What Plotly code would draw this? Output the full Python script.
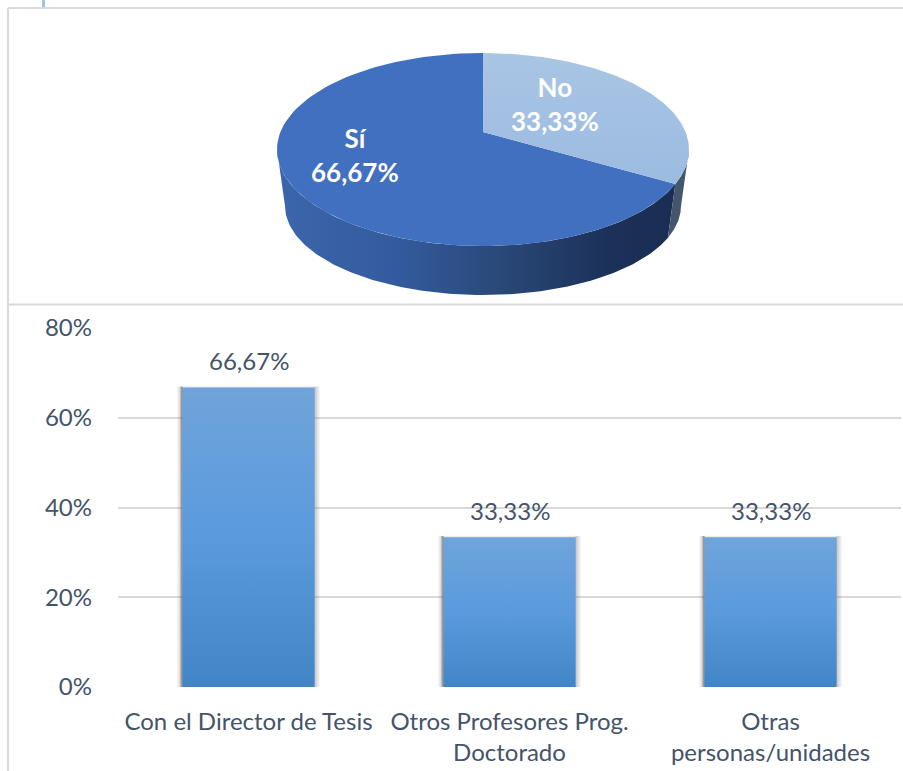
import numpy as np
import plotly.graph_objects as go

# ---- data ----
pie_labels = ["No", "Sí"]
pie_values = [33.33, 66.67]
bar_categories = ["Con el Director de Tesis", "Otros Profesores Prog.<br>Doctorado", "Otras<br>personas/unidades"]
bar_values = [66.67, 33.33, 33.33]
y_ticks = [0, 20, 40, 60, 80]

W, H = 903, 771
FONT = "Lato"
TXT = "#44546A"
GRID = "#D9D9D9"


def pct(v):
    return f"{v:.2f}".replace(".", ",") + "%"


# pie geometry (tilted ellipse)
CX, CY, RX, RY = 483, 149.5, 206, 96.5
AX, AY = 483, 132
BX, BY, BRX, BRY = 483, 206, 198, 89
K = 0.925  # perspective foreshortening of the swept angle


def arc(cx, cy, rx, ry, a0, a1, n=120):
    t = np.radians(np.linspace(a0, a1, n))
    return cx + rx * np.sin(t), cy - ry * np.cos(t)


split = 360 * pie_values[0] / sum(pie_values) * K

fig = go.Figure()

# ---- bars ----
BW = 0.506
bx = list(range(len(bar_values)))
fig.add_trace(go.Bar(x=bx, y=bar_values, width=BW, marker=dict(color="#5B9BDB", line=dict(width=0)),
                     showlegend=False, hoverinfo="skip", xaxis="x", yaxis="y", cliponaxis=False))
for i, v in zip(bx, bar_values):
    l, r = i - BW / 2, i + BW / 2
    s = 6 / 261
    # soft shadows left / right / top / below
    fig.add_trace(go.Scatter(x=[l - s, l, l, l - s, l - s], y=[-0.5, -0.5, v + 0.3, v + 0.3, -0.5], mode="lines", line=dict(width=0),
                             fill="toself", fillgradient=dict(type="horizontal", start=l - s, stop=l,
                             colorscale=[[0, "rgba(110,110,110,0)"], [0.5, "rgba(100,100,100,0.2)"], [1, "rgba(80,80,80,0.8)"]]),
                             showlegend=False, hoverinfo="skip", cliponaxis=False))
    fig.add_trace(go.Scatter(x=[r, r + s, r + s, r, r], y=[-0.5, -0.5, v + 0.3, v + 0.3, -0.5], mode="lines", line=dict(width=0),
                             fill="toself", fillgradient=dict(type="horizontal", start=r, stop=r + s,
                             colorscale=[[0, "rgba(120,120,120,0.45)"], [1, "rgba(130,130,130,0)"]]),
                             showlegend=False, hoverinfo="skip", cliponaxis=False))
    fig.add_trace(go.Scatter(x=[l, r, r, l, l], y=[v, v, v + 0.5, v + 0.5, v], mode="lines", line=dict(width=0),
                             fill="toself", fillgradient=dict(type="vertical", start=v, stop=v + 0.5,
                             colorscale=[[0, "rgba(130,130,130,0.3)"], [1, "rgba(130,130,130,0)"]]),
                             showlegend=False, hoverinfo="skip", cliponaxis=False))
    fig.add_trace(go.Scatter(x=[l, r, r, l, l], y=[-0.6, -0.6, 0, 0, -0.6], mode="lines", line=dict(width=0),
                             fill="toself", fillcolor="rgba(120,120,120,0.5)", showlegend=False, hoverinfo="skip",
                             cliponaxis=False))
    # vertical gradient face
    fig.add_trace(go.Scatter(x=[l, r, r, l, l], y=[0, 0, v, v, 0], mode="lines", line=dict(width=0),
                             fill="toself", fillgradient=dict(type="vertical", start=0, stop=v,
                             colorscale=[[0, "#4285C6"], [0.5, "#5A9ADD"], [1, "#70A4DA"]]),
                             showlegend=False, hoverinfo="skip"))

# ---- pie ----
# wall: Sí part
x_t, y_t = arc(CX, CY, RX, RY, split, 270)
x_b, y_b = arc(BX, BY, BRX, BRY, split, 270)
fig.add_trace(go.Scatter(x=np.r_[x_t, x_b[::-1], x_t[0]], y=np.r_[y_t, y_b[::-1], y_t[0]], mode="lines", line=dict(width=0),
                         fill="toself", xaxis="x2", yaxis="y2", showlegend=False, hoverinfo="skip",
                         fillgradient=dict(type="horizontal", start=CX - RX, stop=CX + RX,
                         colorscale=[[0, "#3C66AC"], [0.3, "#335A9C"], [0.55, "#294877"], [0.8, "#1C3159"], [1, "#1A2C52"]])))
# wall: No part
x_t, y_t = arc(CX, CY, RX, RY, 90, split)
x_b, y_b = arc(BX, BY, BRX, BRY, 90, split)
fig.add_trace(go.Scatter(x=np.r_[x_t, x_b[::-1], x_t[0]], y=np.r_[y_t, y_b[::-1], y_t[0]], mode="lines", line=dict(width=0),
                         fill="toself", fillcolor="#44566E", xaxis="x2", yaxis="y2", showlegend=False, hoverinfo="skip"))
# top face: Sí
x_s, y_s = arc(CX, CY, RX, RY, split, 360)
fig.add_trace(go.Scatter(x=np.r_[AX, x_s, AX], y=np.r_[AY, y_s, AY], mode="lines", line=dict(width=0),
                         fill="toself", fillcolor="#4170C0", xaxis="x2", yaxis="y2", showlegend=False,
                         name=pie_labels[1], hoverinfo="skip"))
# top face: No
x_s, y_s = arc(CX, CY, RX, RY, 0, split)
fig.add_trace(go.Scatter(x=np.r_[AX, x_s, AX], y=np.r_[AY, y_s, AY], mode="lines", line=dict(width=0),
                         fill="toself", xaxis="x2", yaxis="y2", showlegend=False, name=pie_labels[0], hoverinfo="skip",
                         fillgradient=dict(type="vertical", start=53, stop=185,
                         colorscale=[[0, "#A9C5E5"], [1, "#9BBBE0"]])))

annotations = []
for lab, v, x, y in zip(pie_labels, pie_values, [555, 355], [104, 155]):
    annotations.append(dict(x=x, y=y, xref="x2", yref="y2", showarrow=False, align="center",
                            text=f"<b>{lab}<br>{pct(v)}</b>",
                            font=dict(family=FONT, size=26, color="white")))
for i, v in zip(bx, bar_values):
    annotations.append(dict(x=i, y=v, xref="x", yref="y", yshift=27, showarrow=False,
                            text=pct(v), font=dict(family=FONT, size=24, color=TXT)))

shapes = [
    dict(type="line", xref="x2", yref="y2", x0=8, x1=903, y0=8, y1=8, line=dict(color=GRID, width=2)),
    dict(type="line", xref="x2", yref="y2", x0=8, x1=8, y0=8, y1=771, line=dict(color=GRID, width=2)),
    dict(type="line", xref="x2", yref="y2", x0=8, x1=903, y0=304.5, y1=304.5, line=dict(color=GRID, width=2)),
    dict(type="line", xref="x2", yref="y2", x0=43.5, x1=43.5, y0=0, y1=7, line=dict(color="#9DC3E6", width=3)),
]

fig.update_layout(
    width=W, height=H, margin=dict(l=0, r=0, t=0, b=0, autoexpand=False), paper_bgcolor="white", plot_bgcolor="rgba(0,0,0,0)",
    showlegend=False, barmode="overlay", annotations=annotations, shapes=shapes,
    xaxis=dict(domain=[118 / W, 901 / W], range=[-0.5, 2.5], tickmode="array", tickvals=bx, ticktext=bar_categories,
               showgrid=False, zeroline=False, showline=False, ticks="", tickangle=0, automargin=False,
               tickfont=dict(family=FONT, size=24, color=TXT), ticklabelstandoff=18),
    yaxis=dict(domain=[(H - 687) / H, (H - 328) / H], range=[0, 80], tickmode="array", tickvals=y_ticks,
               ticktext=[f"{t}%" for t in y_ticks], gridcolor=GRID, gridwidth=2, zeroline=False, showline=False, ticks="",
               automargin=False, tickfont=dict(family=FONT, size=24, color=TXT), ticklabelstandoff=25),
    xaxis2=dict(domain=[0, 1], range=[0, W], visible=False, anchor="y2", fixedrange=True, automargin=False),
    yaxis2=dict(domain=[0, 1], range=[H, 0], visible=False, anchor="x2", fixedrange=True, automargin=False),
)

fig.write_html("out.html", post_script="document.body.style.margin='0';", config={"displayModeBar": False})
